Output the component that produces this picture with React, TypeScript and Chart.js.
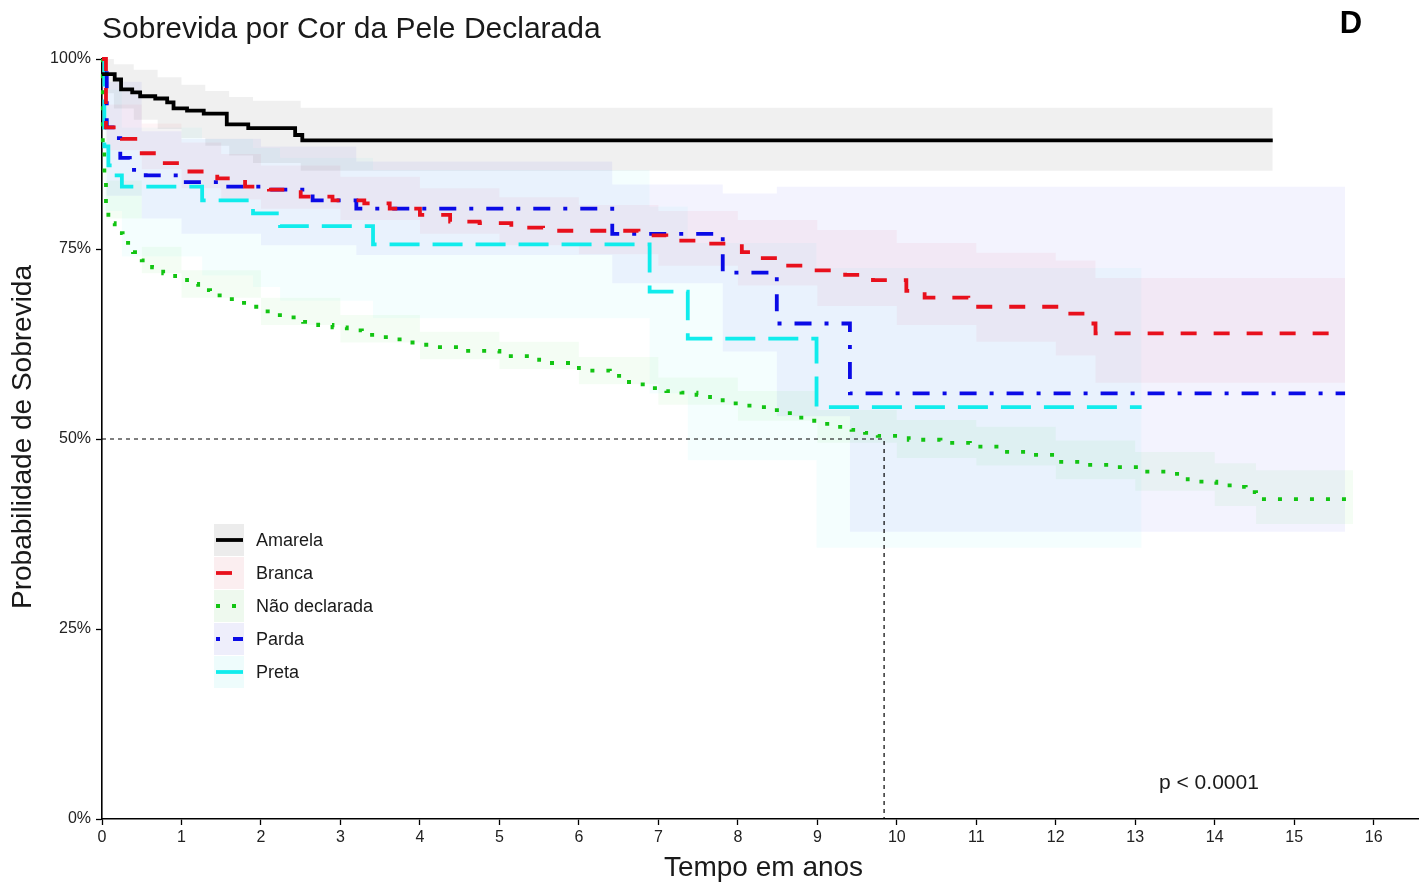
import React, { useEffect, useRef } from "react";
import { Chart, registerables } from "chart.js";
Chart.register(...registerables);

// ---------- DATA ----------
const xTicks = [0, 1, 2, 3, 4, 5, 6, 7, 8, 9, 10, 11, 12, 13, 14, 15, 16];
const yTicks = [0, 25, 50, 75, 100];
const yTickLabels = ["0%", "25%", "50%", "75%", "100%"];
const xMax = 16.57;

const seriesNames = ["Amarela", "Branca", "Não declarada", "Parda", "Preta"];

// Amarela
const amarelaT = [0, 0.04, 0.16, 0.24, 0.38, 0.48, 0.67, 0.82, 0.9, 1.07, 1.28, 1.57, 1.84, 2.43, 2.52, 14.73];
const amarelaS = [98.0, 98.0, 97.3, 96.0, 95.6, 95.1, 94.8, 94.3, 93.5, 93.2, 92.8, 91.4, 90.9, 90.0, 89.3, 89.3];
const amarelaBandT = [0, 0.15, 0.4, 0.7, 1.0, 1.3, 1.6, 1.9, 2.5, 14.73];
const amarelaLow = [95.5, 93.5, 92.0, 90.8, 89.6, 88.6, 87.3, 86.3, 85.3, 85.3];
const amarelaUp = [100, 99.3, 98.6, 97.6, 96.6, 95.8, 95.0, 94.5, 93.6, 93.6];

// Branca
const brancaT = [0, 0.05, 0.25, 0.5, 0.75, 1.1, 1.45, 1.8, 2.1, 2.5, 2.9, 3.3, 3.62, 4.0, 4.38, 4.75, 5.15, 5.55, 6.75, 7.1, 7.5, 8.05, 8.22, 8.58, 8.95, 9.35, 9.7, 10.12, 10.35, 10.9, 12.1, 12.38, 12.5, 15.64];
const brancaS = [100, 91.0, 89.5, 87.6, 86.3, 85.2, 84.3, 83.2, 82.8, 81.9, 81.4, 81.0, 80.3, 79.5, 78.6, 78.4, 77.8, 77.4, 76.8, 76.1, 75.7, 74.6, 73.8, 72.8, 72.2, 71.6, 70.9, 69.5, 68.6, 67.4, 66.5, 65.2, 63.9, 63.9];
const brancaBandT = [0, 0.05, 0.5, 1, 1.5, 2, 3, 4, 5, 6, 7, 8, 9, 10, 11, 12, 12.5, 15.64];
const brancaLow = [100, 88, 85.5, 83, 81.5, 80.3, 78.8, 77, 75.5, 74.3, 72.8, 70.2, 67.5, 65, 62.8, 61, 57.4, 57.4];
const brancaUp = [100, 94, 91.5, 89, 87.5, 86, 84.5, 83, 81.8, 80.8, 80, 78.8, 77.5, 75.8, 74.5, 73.5, 71.2, 71.2];

// Não declarada
const naoT = [0, 0.01, 0.03, 0.05, 0.08, 0.16, 0.26, 0.39, 0.5, 0.63, 0.77, 0.92, 1.07, 1.21, 1.36, 1.52, 1.7, 1.84, 2.03, 2.2, 2.36, 2.53, 2.72, 2.9, 3.08, 3.27, 3.46, 3.62, 3.81, 3.98, 4.16, 4.5, 5.0, 5.5, 6.0, 6.39, 6.55, 6.74, 6.91, 7.1, 7.29, 7.48, 7.65, 7.81, 8.0, 8.19, 8.38, 8.55, 8.72, 8.88, 9.07, 9.24, 9.43, 9.6, 9.76, 10.15, 10.55, 10.92, 11.28, 11.65, 12.0, 12.38, 12.74, 13.1, 13.47, 13.66, 14.02, 14.27, 14.39, 14.52, 15.74];
const naoS = [100, 88, 84, 81, 78.4, 77.1, 75.8, 74.6, 73.5, 72.6, 71.8, 71.2, 70.4, 69.6, 68.9, 68.4, 67.9, 67.4, 66.8, 66.3, 66.0, 65.4, 65.0, 64.7, 64.3, 63.7, 63.4, 63.1, 62.7, 62.4, 62.1, 61.6, 60.9, 60.0, 59.0, 58.3, 57.5, 57.2, 56.7, 56.3, 56.1, 55.8, 55.1, 54.7, 54.4, 54.2, 53.8, 53.4, 52.8, 52.4, 52.0, 51.6, 51.2, 50.8, 50.4, 49.9, 49.5, 49.0, 48.3, 47.9, 47.0, 46.6, 46.3, 45.7, 45.4, 44.4, 43.9, 43.7, 43.0, 42.1, 42.1];
const naoBandT = [0, 0.05, 0.5, 1, 2, 3, 4, 5, 6, 7, 8, 9, 10, 11, 12, 13, 14, 14.52, 15.74];
const naoLow = [100, 79, 71.8, 68.6, 65.0, 62.7, 60.5, 59.2, 57.2, 54.5, 52.4, 49.5, 47.5, 46.5, 44.7, 43.2, 41.2, 38.8, 38.8];
const naoUp = [100, 84, 75.3, 72.2, 68.6, 66.3, 64.1, 62.8, 60.8, 58.1, 56.3, 53.8, 52.5, 51.6, 49.8, 48.3, 46.8, 45.9, 45.9];

// Parda
const pardaT = [0, 0.06, 0.16, 0.23, 0.35, 0.55, 1.03, 1.5, 2.0, 2.65, 3.2, 6.42, 7.81, 8.49, 9.41, 15.64];
const pardaS = [100, 91.0, 89.6, 87.0, 85.4, 84.7, 83.8, 83.2, 82.8, 81.4, 80.3, 77.0, 71.9, 65.2, 56.0, 56.0];
const pardaBandT = [0, 0.06, 0.5, 1, 2, 3.2, 6.42, 7.81, 8.49, 9.41, 15.64];
const pardaLow = [100, 82, 79, 77, 75.5, 74.2, 70.5, 61.5, 53, 37.8, 37.8];
const pardaUp = [100, 97, 90.5, 89.5, 88.5, 86.5, 83.5, 82.3, 83.2, 83.2, 83.2];

// Preta
const pretaT = [0, 0.03, 0.08, 0.16, 0.25, 1.26, 1.9, 2.24, 3.41, 6.89, 7.37, 8.99, 13.08];
const pretaS = [100, 88.5, 86.0, 84.7, 83.2, 81.4, 79.7, 78.0, 75.6, 69.4, 63.2, 54.2, 54.2];
const pretaBandT = [0, 0.03, 0.25, 1.26, 1.9, 2.24, 3.41, 6.89, 7.37, 8.99, 13.08];
const pretaLow = [100, 80, 74, 71.5, 70, 68.2, 65.9, 56, 47.2, 35.7, 35.7];
const pretaUp = [100, 96, 91, 89.5, 88.3, 87, 85.4, 80.6, 75.8, 72.5, 72.5];

// median reference
const medianTime = 9.84;
const medianLevel = 50;
const pValueText = "p < 0.0001";
const titleText = "Sobrevida por Cor da Pele Declarada";
const panelLetter = "D";
const xTitle = "Tempo em anos";
const yTitle = "Probabilidade de Sobrevida";

// ---------- STYLES ----------
const lineColors = ["#000000", "#e8101c", "#12c412", "#0a0ae6", "#10ecec"];
const bandColors = [
  "rgba(0,0,0,0.06)",
  "rgba(230,0,40,0.045)",
  "rgba(0,200,0,0.045)",
  "rgba(20,20,230,0.05)",
  "rgba(0,230,230,0.045)",
];
const legendKeyColors = ["#ececec", "#fbeef0", "#eef9ee", "#eeeefb", "#eefcfc"];
const dashes: number[][] = [[], [16, 17], [4, 12], [4, 13, 17, 13], [30, 13]];
const FONT = "'Liberation Sans', Arial, Helvetica, sans-serif";

const pts = (T: number[], S: number[]) => T.map((t, i) => ({ x: t, y: S[i] }));

export default function App() {
  const ref = useRef<HTMLCanvasElement | null>(null);

  useEffect(() => {
    if (!ref.current) return;
    const lines = [
      [amarelaT, amarelaS],
      [brancaT, brancaS],
      [naoT, naoS],
      [pardaT, pardaS],
      [pretaT, pretaS],
    ];
    const bands = [
      [amarelaBandT, amarelaLow, amarelaUp],
      [brancaBandT, brancaLow, brancaUp],
      [naoBandT, naoLow, naoUp],
      [pardaBandT, pardaLow, pardaUp],
      [pretaBandT, pretaLow, pretaUp],
    ];
    const datasets: any[] = [];
    datasets.push({
      data: [
        { x: 0, y: medianLevel },
        { x: medianTime, y: medianLevel },
        { x: medianTime, y: 0 },
      ],
      borderColor: "#000",
      borderWidth: 1.2,
      borderDash: [4, 4],
      pointRadius: 0,
      fill: false,
      clip: false,
    });
    const order = [0, 1, 3, 4, 2];
    order.forEach((i) => {
      datasets.push({
        data: pts(lines[i][0], lines[i][1]),
        borderColor: lineColors[i],
        borderWidth: 3.8,
        borderDash: dashes[i],
        stepped: true,
        pointRadius: 0,
        fill: false,
        clip: false,
      });
    });
    bands.forEach((b, i) => {
      const lowIdx = datasets.length;
      datasets.push({
        data: pts(b[0], b[1]),
        borderColor: "transparent",
        borderWidth: 0,
        stepped: true,
        pointRadius: 0,
        fill: false,
      });
      datasets.push({
        data: pts(b[0], b[2]),
        borderColor: "transparent",
        borderWidth: 0,
        stepped: true,
        pointRadius: 0,
        fill: lowIdx,
        backgroundColor: bandColors[i],
      });
    });

    const annot = {
      id: "annot",
      afterDraw(chart: any) {
        const ctx = chart.ctx as CanvasRenderingContext2D;
        const ca = chart.chartArea;
        ctx.save();
        ctx.fillStyle = "#1a1a1a";
        ctx.textBaseline = "middle";
        ctx.font = `30px ${FONT}`;
        ctx.textAlign = "left";
        ctx.fillText(titleText, 102, 30);
        ctx.font = `bold 31px ${FONT}`;
        ctx.textAlign = "center";
        ctx.fillStyle = "#000";
        ctx.fillText(panelLetter, 1351, 24);
        ctx.fillStyle = "#1a1a1a";
        ctx.font = `28px ${FONT}`;
        ctx.fillText(xTitle, (ca.left + ca.right) / 2 + 3, 868);
        ctx.save();
        ctx.translate(23, (ca.top + ca.bottom) / 2 - 2);
        ctx.rotate(-Math.PI / 2);
        ctx.fillText(yTitle, 0, 0);
        ctx.restore();
        ctx.font = `21px ${FONT}`;
        ctx.textAlign = "left";
        ctx.fillText(pValueText, 1159, 783);
        seriesNames.forEach((name, i) => {
          const cy = 540 + 33 * i;
          ctx.fillStyle = legendKeyColors[i];
          ctx.fillRect(214, cy - 16, 30, 32);
          ctx.strokeStyle = lineColors[i];
          ctx.lineWidth = 3.8;
          ctx.setLineDash(dashes[i]);
          ctx.beginPath();
          ctx.moveTo(216, cy);
          ctx.lineTo(243, cy);
          ctx.stroke();
          ctx.setLineDash([]);
          ctx.fillStyle = "#1a1a1a";
          ctx.font = `18px ${FONT}`;
          ctx.textAlign = "left";
          ctx.fillText(name, 256, cy + 1);
        });
        ctx.restore();
      },
    };

    const chart = new Chart(ref.current, {
      type: "line",
      data: { datasets },
      options: {
        animation: false,
        responsive: false,
        devicePixelRatio: 1,
        events: [],
        layout: { padding: { top: 59, left: 0, right: 0, bottom: 0 } },
        plugins: { legend: { display: false }, tooltip: { enabled: false } },
        scales: {
          x: {
            type: "linear",
            min: 0,
            max: xMax,
            afterBuildTicks: (scale: any) => {
              scale.ticks = xTicks.map((v) => ({ value: v }));
            },
            afterFit: (scale: any) => {
              scale.height = 64;
            },
            ticks: {
              autoSkip: false,
              maxRotation: 0,
              minRotation: 0,
              padding: 3,
              color: "#222",
              font: { family: FONT, size: 16 },
              callback: (v: any) => String(v),
            },
            grid: {
              drawOnChartArea: false,
              drawTicks: true,
              tickLength: 6,
              tickColor: "#000",
              tickWidth: 1.3,
            },
            border: { display: true, color: "#000", width: 1.6 },
          },
          y: {
            type: "linear",
            min: 0,
            max: 100,
            afterBuildTicks: (scale: any) => {
              scale.ticks = yTicks.map((v) => ({ value: v }));
            },
            afterFit: (scale: any) => {
              scale.width = 102;
            },
            ticks: {
              autoSkip: false,
              padding: 5,
              color: "#222",
              font: { family: FONT, size: 16 },
              callback: (v: any) => yTickLabels[yTicks.indexOf(Number(v))],
            },
            grid: {
              drawOnChartArea: false,
              drawTicks: true,
              tickLength: 6,
              tickColor: "#000",
              tickWidth: 1.3,
            },
            border: { display: true, color: "#000", width: 1.6 },
          },
        },
      },
      plugins: [annot],
    } as any);
    return () => chart.destroy();
  }, []);

  return (
    <div style={{ position: "absolute", left: 0, top: 0, width: 1419, height: 883, background: "#fff" }}>
      <canvas ref={ref} width={1419} height={883} style={{ display: "block" }} />
    </div>
  );
}
